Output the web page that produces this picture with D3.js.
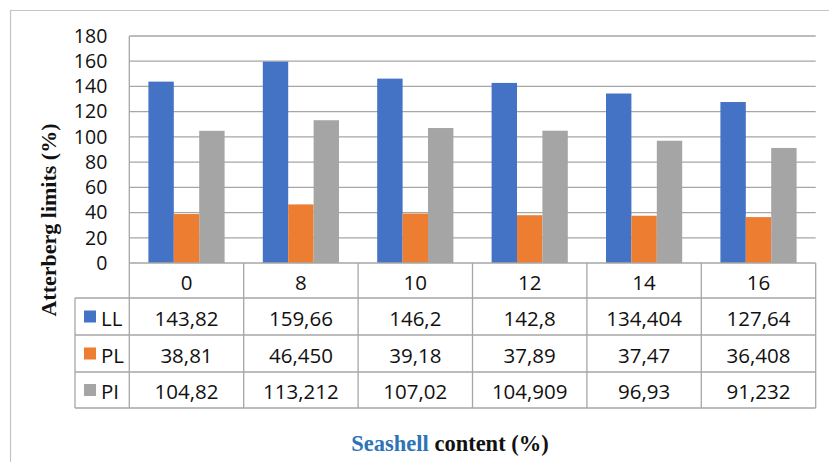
<!DOCTYPE html>
<html>
<head>
<meta charset="utf-8">
<script src="https://cdn.jsdelivr.net/npm/d3@7/dist/d3.min.js"></script>
<style>
  html, body { margin: 0; padding: 0; background: #fff; }
  svg { display: block; }
</style>
</head>
<body>
<script>
// Seashell content (%) categories
const categories = ["0", "8", "10", "12", "14", "16"];

// Atterberg limits as printed in the data table (decimal comma)
const llLabels = ["143,82", "159,66", "146,2", "142,8", "134,404", "127,64"];
const plLabels = ["38,81", "46,450", "39,18", "37,89", "37,47", "36,408"];
const piLabels = ["104,82", "113,212", "107,02", "104,909", "96,93", "91,232"];

const seriesNames = ["LL", "PL", "PI"];
const seriesColors = ["#4472c4", "#ed7d31", "#a5a5a5"];
const yTicks = [0, 20, 40, 60, 80, 100, 120, 140, 160, 180];

const toNum = s => parseFloat(s.replace(",", "."));
const seriesLabels = [llLabels, plLabels, piLabels];
const seriesValues = seriesLabels.map(arr => arr.map(toNum));

const W = 829, H = 462;
const plot = { left: 129.3, right: 815.7, top: 36, bottom: 263 };
const tableLeft = 75;
const rowEdges = [263, 298, 335, 372, 408];

const bodyFont = "'Open Sans', 'Liberation Sans', sans-serif";
const serifFont = "'Liberation Serif', 'DejaVu Serif', serif";
const tickSize = 19.5, cellSize = 20.5;

const svg = d3.select("body").append("svg")
  .attr("width", W).attr("height", H);

svg.append("rect").attr("width", W).attr("height", H).attr("fill", "#fff");

// outer frame (top and left edges)
svg.append("path")
  .attr("d", `M10.5,${H} L10.5,10.5 L${W},10.5`)
  .attr("fill", "none").attr("stroke", "#c4c4c4").attr("stroke-width", 1.2);

const x = d3.scaleBand().domain(categories).range([plot.left, plot.right]);
const y = d3.scaleLinear().domain([0, 180]).range([plot.bottom, plot.top]);
const bw = x.bandwidth();
const xs = d3.scaleBand().domain(seriesNames).range([bw * 0.167, bw * 0.833]);

// horizontal gridlines
svg.append("g").selectAll("line")
  .data(yTicks.filter(t => t > 0))
  .join("line")
  .attr("x1", plot.left).attr("x2", plot.right)
  .attr("y1", d => y(d)).attr("y2", d => y(d))
  .attr("stroke", "#a6a6a6").attr("stroke-width", 1.3);

// value axis labels
const yAxis = d3.axisLeft(y).tickValues(yTicks).tickSize(0).tickPadding(22);
const yg = svg.append("g").attr("transform", `translate(${plot.left},0)`).call(yAxis);
yg.select(".domain").remove();
yg.selectAll("text")
  .attr("font-family", bodyFont).attr("font-size", tickSize).attr("fill", "#111");

// plot left edge
svg.append("line")
  .attr("x1", plot.left).attr("x2", plot.left)
  .attr("y1", plot.top).attr("y2", plot.bottom)
  .attr("stroke", "#a6a6a6").attr("stroke-width", 1.3);

// clustered bars
const groups = svg.append("g").selectAll("g")
  .data(categories)
  .join("g")
  .attr("transform", d => `translate(${x(d)},0)`);

groups.selectAll("rect")
  .data((c, i) => seriesNames.map((s, k) => ({ s, k, v: seriesValues[k][i] })))
  .join("rect")
  .attr("x", d => xs(d.s))
  .attr("width", xs.bandwidth())
  .attr("y", d => y(d.v))
  .attr("height", d => y(0) - y(d.v))
  .attr("fill", d => seriesColors[d.k]);

// data table grid
const grid = svg.append("g").attr("stroke", "#a6a6a6").attr("stroke-width", 1.3);
rowEdges.forEach((ry, i) => {
  grid.append("line")
    .attr("x1", i === 0 ? plot.left : tableLeft).attr("x2", plot.right)
    .attr("y1", ry).attr("y2", ry);
});
grid.append("line")
  .attr("x1", tableLeft).attr("x2", tableLeft)
  .attr("y1", rowEdges[1]).attr("y2", rowEdges[4]);
categories.concat([null]).forEach(c => {
  const cx = c === null ? plot.right : x(c);
  grid.append("line")
    .attr("x1", cx).attr("x2", cx)
    .attr("y1", rowEdges[0]).attr("y2", rowEdges[4]);
});

// header row: category labels
svg.append("g").selectAll("text")
  .data(categories)
  .join("text")
  .attr("x", d => x(d) + bw / 2)
  .attr("y", (rowEdges[0] + rowEdges[1]) / 2 + 1)
  .attr("text-anchor", "middle").attr("dominant-baseline", "central")
  .attr("font-family", bodyFont).attr("font-size", cellSize).attr("fill", "#111")
  .text(d => d);

// series rows: legend key + values
seriesNames.forEach((s, k) => {
  const cy = (rowEdges[k + 1] + rowEdges[k + 2]) / 2;
  svg.append("rect")
    .attr("x", 84).attr("y", cy - 6).attr("width", 12).attr("height", 12)
    .attr("fill", seriesColors[k]);
  svg.append("text")
    .attr("x", 101).attr("y", cy + 1)
    .attr("dominant-baseline", "central")
    .attr("font-family", bodyFont).attr("font-size", cellSize).attr("fill", "#111")
    .text(s);
  svg.append("g").selectAll("text")
    .data(seriesLabels[k])
    .join("text")
    .attr("x", (d, i) => x(categories[i]) + bw / 2)
    .attr("y", cy + 1)
    .attr("text-anchor", "middle").attr("dominant-baseline", "central")
    .attr("font-family", bodyFont).attr("font-size", cellSize).attr("fill", "#111")
    .text(d => d);
});

// axis titles
svg.append("text")
  .attr("transform", "translate(48,220) rotate(-90)")
  .attr("text-anchor", "middle").attr("dominant-baseline", "central")
  .attr("font-family", serifFont).attr("font-weight", "bold")
  .attr("font-size", 22).attr("fill", "#111")
  .text("Atterberg limits (%)");

const xt = svg.append("text")
  .attr("x", 450).attr("y", 451)
  .attr("text-anchor", "middle")
  .attr("font-family", serifFont).attr("font-weight", "bold")
  .attr("font-size", 22.5).attr("fill", "#111");
xt.append("tspan").attr("fill", "#2e74b5").text("Seashell");
xt.append("tspan").text(" content (%)");
</script>
</body>
</html>
